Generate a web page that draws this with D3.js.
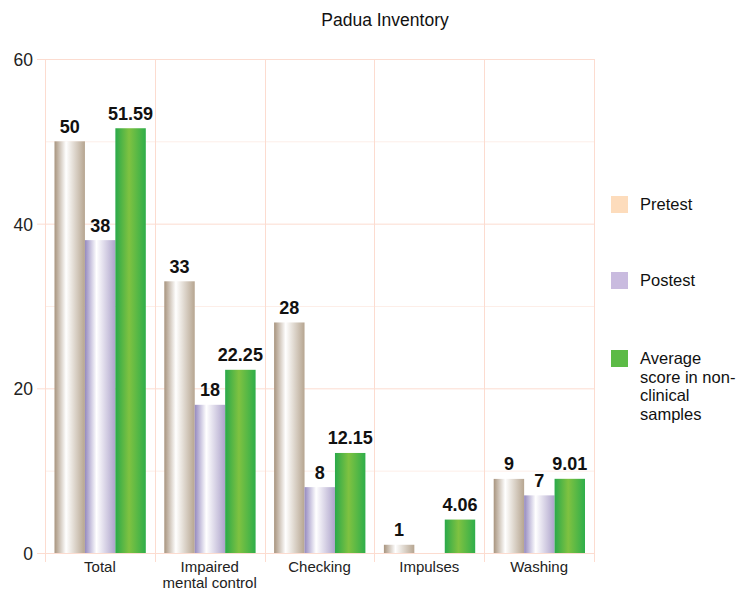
<!DOCTYPE html>
<html>
<head>
<meta charset="utf-8">
<script src="https://cdn.jsdelivr.net/npm/d3@7"></script>
<style>
  body { margin: 0; background: #fff; }
  svg { font-family: "Liberation Sans", Arial, sans-serif; }
</style>
</head>
<body>
<svg width="737" height="590"></svg>
<script>
const categories = ['Total', 'Impaired mental control', 'Checking', 'Impulses', 'Washing']
const categoryLines = [['Total'], ['Impaired', 'mental control'], ['Checking'], ['Impulses'], ['Washing']]
const seriesNames = ['Pretest', 'Postest', 'Average score in non-clinical samples']
const legendLines = [['Pretest'], ['Postest'], ['Average', 'score in non-', 'clinical', 'samples']]
const pretest = [50, 33, 28, 1, 9]
const postest = [38, 18, 8, 0, 7]
const average = [51.59, 22.25, 12.15, 4.06, 9.01]
const yTicks = [0, 20, 40, 60]
const yGrid = [10, 30, 50]

const series = [pretest, postest, average]
const legendColors = ['#fddcbc', '#c9bbdf', '#5cbb46']
const grads = [
  ['#a8947e', '#ffffff', '#b6a590'],
  ['#958ac0', '#ffffff', '#ada3cb'],
  ['#2aa94a', '#7fc241', '#2fae4a']
]
const gridColor = '#fcdcd0'

const plotLeft = 45, plotRight = 594, plotTop = 59, plotBottom = 553

const svg = d3.select('svg')

const defs = svg.append('defs')
grads.forEach((g, i) => {
  const lg = defs.append('linearGradient').attr('id', 'g' + i)
    .attr('x1', 0).attr('x2', 1).attr('y1', 0).attr('y2', 0)
  lg.append('stop').attr('offset', '0%').attr('stop-color', g[0])
  lg.append('stop').attr('offset', i === 2 ? '45%' : '38%').attr('stop-color', g[1])
  lg.append('stop').attr('offset', '100%').attr('stop-color', g[2])
})

const x = d3.scaleBand().domain(categories).range([plotLeft, plotRight])
const x1 = d3.scaleBand().domain(seriesNames).range([9.5, x.bandwidth() - 9])
const y = d3.scaleLinear().domain([0, 60]).range([plotBottom, plotTop])

// title
svg.append('text')
  .attr('x', 385).attr('y', 26)
  .attr('text-anchor', 'middle')
  .attr('font-size', 17.5)
  .attr('fill', '#111')
  .text('Padua Inventory')

// grid
svg.append('g').selectAll('line').data(yGrid).join('line')
  .attr('x1', plotLeft).attr('x2', plotRight)
  .attr('y1', d => y(d) + 0.5).attr('y2', d => y(d) + 0.5)
  .attr('stroke', '#fdeee8')

svg.append('g').selectAll('line').data(yTicks).join('line')
  .attr('x1', plotLeft - 8).attr('x2', plotRight)
  .attr('y1', d => y(d) + 0.5).attr('y2', d => y(d) + 0.5)
  .attr('stroke', gridColor)

const bounds = categories.map(c => x(c)).concat([plotRight])
svg.append('g').selectAll('line').data(bounds).join('line')
  .attr('x1', d => Math.round(d) + 0.5).attr('x2', d => Math.round(d) + 0.5)
  .attr('y1', plotTop).attr('y2', plotBottom + 9)
  .attr('stroke', gridColor)

// y tick labels
svg.append('g').selectAll('text').data(yTicks).join('text')
  .attr('x', 33).attr('y', d => y(d) + 7)
  .attr('text-anchor', 'end')
  .attr('font-size', 17.5)
  .attr('fill', '#222')
  .text(d => d)

// bars
const groups = svg.append('g').selectAll('g').data(categories).join('g')
  .attr('transform', c => `translate(${x(c)},0)`)

series.forEach((vals, si) => {
  groups.filter((c, i) => vals[i] > 0)
    .append('rect')
    .attr('x', x1(seriesNames[si]))
    .attr('width', x1.bandwidth())
    .attr('y', (c) => y(vals[categories.indexOf(c)]))
    .attr('height', (c) => plotBottom - y(vals[categories.indexOf(c)]))
    .attr('fill', `url(#g${si})`)

  groups.filter((c, i) => vals[i] > 0)
    .append('text')
    .attr('x', x1(seriesNames[si]) + x1.bandwidth() / 2)
    .attr('y', (c) => y(vals[categories.indexOf(c)]) - 8.5)
    .attr('text-anchor', 'middle')
    .attr('font-size', 18)
    .attr('font-weight', 'bold')
    .attr('fill', '#111')
    .text(c => vals[categories.indexOf(c)])
})

// category labels
groups.append('text')
  .attr('text-anchor', 'middle')
  .attr('font-size', 15)
  .attr('fill', '#222')
  .selectAll('tspan')
  .data((c, i) => categoryLines[i])
  .join('tspan')
  .attr('x', x.bandwidth() / 2)
  .attr('y', (d, i) => 572 + i * 16)
  .text(d => d)

// legend
const legendY = [196, 272, 350]
const legend = svg.append('g').selectAll('g').data(seriesNames).join('g')
  .attr('transform', (d, i) => `translate(611,${legendY[i]})`)

legend.append('rect')
  .attr('width', 17).attr('height', 17)
  .attr('fill', (d, i) => legendColors[i])

legend.append('text')
  .attr('font-size', 16.5)
  .attr('fill', '#111')
  .selectAll('tspan')
  .data((d, i) => legendLines[i])
  .join('tspan')
  .attr('x', 29)
  .attr('y', (d, i) => 14 + i * 18.5)
  .text(d => d)
</script>
</body>
</html>
